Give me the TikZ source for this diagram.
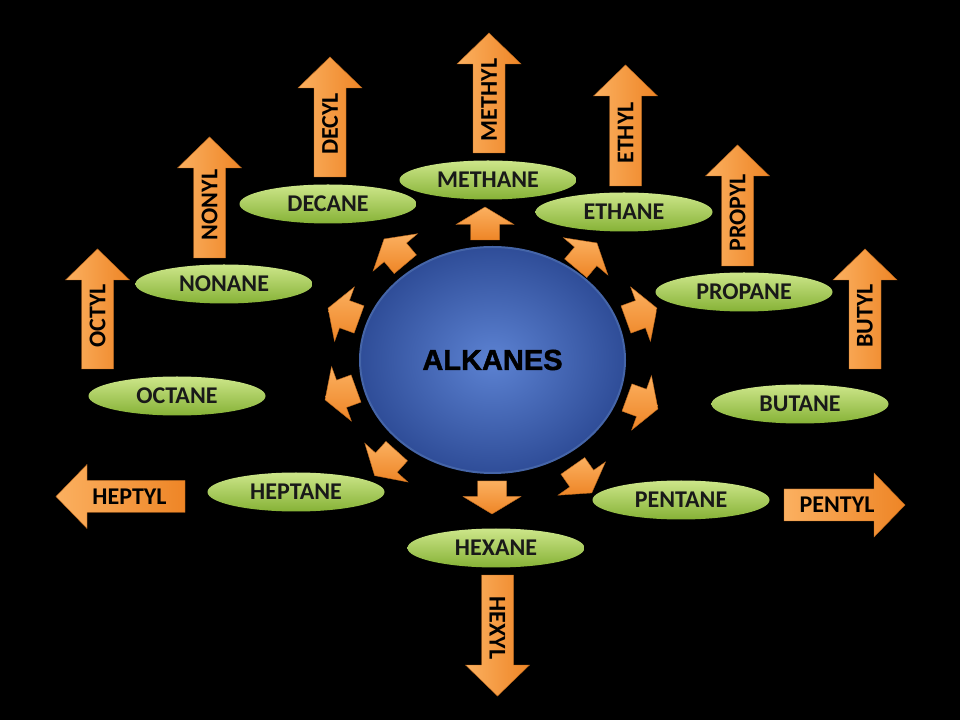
\documentclass[tikz,border=0pt]{standalone}
\usepackage{fontspec}
\setmainfont{Carlito}
\newfontfamily\alkfont{Liberation Sans}[BoldFeatures={FakeBold=1.6}]
\usetikzlibrary{shapes.geometric}
\definecolor{orlight}{HTML}{FBB060}
\definecolor{ordark}{HTML}{EE8526}
\definecolor{grlight}{HTML}{CDE68A}
\definecolor{grdark}{HTML}{86B236}
\definecolor{blin}{HTML}{5C82D2}
\definecolor{blout}{HTML}{2F4D98}
\definecolor{blbord}{HTML}{4565A8}
\newcommand{\bigarrow}[3]{%
  \begin{scope}[shift={#1}, rotate=#2]
    \path[bigarr] (0,-16) -- ({#3-31},-16) -- ({#3-31},-32) -- (#3,0) -- ({#3-31},32) -- ({#3-31},16) -- (0,16) -- cycle;
  \end{scope}}
\newcommand{\smallarrow}[2]{%
  \begin{scope}[shift={#1}, rotate=#2]
    \path[smallarr] (-16,-14.5) -- (-0.5,-14.5) -- (-0.5,-29) -- (17,0) -- (-0.5,29) -- (-0.5,14.5) -- (-16,14.5) -- cycle;
  \end{scope}}
\tikzset{
  bigarr/.style={left color=orlight, right color=ordark, draw=ordark!80!black, line width=0.4pt},
  smallarr/.style={top color=orlight, bottom color=ordark, draw=ordark!80!black, line width=0.4pt},
  arrtext/.style={font=\bfseries\fontsize{24}{24}\selectfont, text=black, inner sep=0pt},
  alkane/.style={ellipse, minimum width=177pt, minimum height=39pt, inner sep=0pt,
    top color=grlight, bottom color=grdark, font=\bfseries\fontsize{24}{24}\selectfont, text=black!90},
  hub/.style={ellipse, minimum width=265pt, minimum height=226pt, inner sep=0pt,
    inner color=blin, outer color=blout, draw=blbord, line width=2pt,
    font=\alkfont\bfseries\fontsize{29}{29}\selectfont, text=black}
}
\begin{document}
\begin{tikzpicture}[x=1pt,y=1pt]
\fill[black] (0,0) rectangle (960,720);
\useasboundingbox (0,0) rectangle (960,720);

% central ellipse
\node[hub] (alk) at (492.5,360) {ALKANES};

% small arrows around the hub
\smallarrow{(485,496)}{90}
\smallarrow{(395,468)}{130}
\smallarrow{(344,406)}{160}
\smallarrow{(341,326)}{200}
\smallarrow{(386,257)}{228}
\smallarrow{(492,223)}{270}
\smallarrow{(582,241)}{305}
\smallarrow{(642,317)}{340}
\smallarrow{(641,406)}{20}
\smallarrow{(586,464)}{50}

% alkane ellipses
\node[alkane] (methane) at (488,540) {METHANE};
\node[alkane] (ethane)  at (624,508) {ETHANE};
\node[alkane] (decane)  at (328,516) {DECANE};
\node[alkane] (nonane)  at (224,436) {NONANE};
\node[alkane] (propane) at (744,428) {PROPANE};
\node[alkane] (butane)  at (800,316) {BUTANE};
\node[alkane] (octane)  at (177,324) {OCTANE};
\node[alkane] (heptane) at (296,228) {HEPTANE};
\node[alkane] (pentane) at (681,220) {PENTANE};
\node[alkane] (hexane)  at (496,172) {HEXANE};

% big alkyl arrows
\bigarrow{(489,567)}{90}{120}
\bigarrow{(330,543)}{90}{120}
\bigarrow{(209.5,462)}{90}{121}
\bigarrow{(97.5,351)}{90}{120}
\bigarrow{(625.5,534)}{90}{121}
\bigarrow{(737.5,454)}{90}{121}
\bigarrow{(865,351)}{90}{120}
\bigarrow{(497.5,145)}{270}{121}
\bigarrow{(185,223.5)}{180}{129}
\bigarrow{(784,215)}{0}{121}

\node[arrtext, rotate=90]  (methyl) at (489,620)   {METHYL};
\node[arrtext, rotate=90]  (decyl)  at (330,596)   {DECYL};
\node[arrtext, rotate=90]  (nonyl)  at (209.5,515) {NONYL};
\node[arrtext, rotate=90]  (octyl)  at (97.5,404)  {OCTYL};
\node[arrtext, rotate=90]  (ethyl)  at (625.5,587) {ETHYL};
\node[arrtext, rotate=90]  (propyl) at (737.5,507) {PROPYL};
\node[arrtext, rotate=90]  (butyl)  at (865,404)   {BUTYL};
\node[arrtext, rotate=-90] (hexyl)  at (497.5,92)  {HEXYL};
\node[arrtext]             (heptyl) at (129.5,223.5) {HEPTYL};
\node[arrtext]             (pentyl) at (837,215)   {PENTYL};
\end{tikzpicture}
\end{document}
